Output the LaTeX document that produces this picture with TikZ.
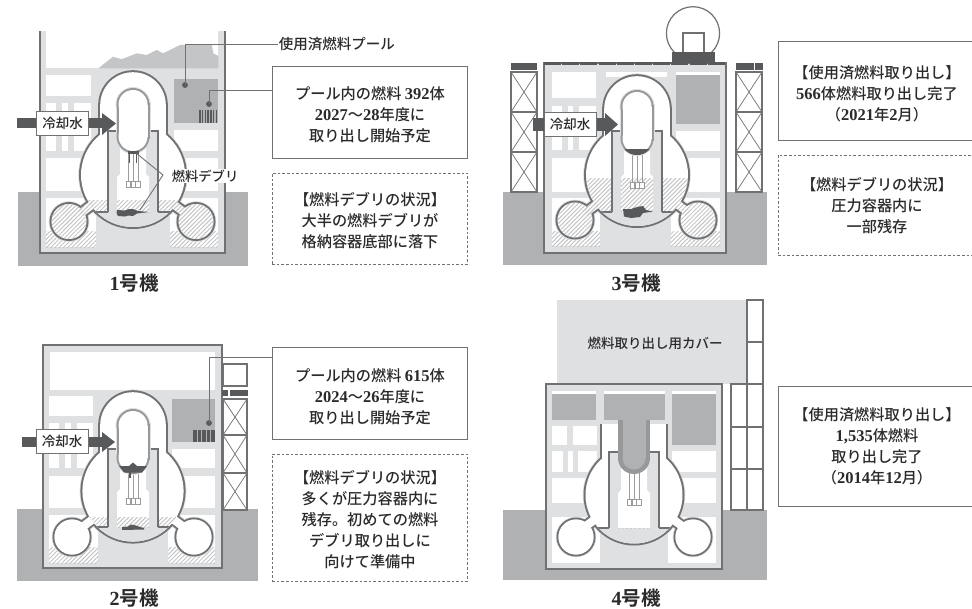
\documentclass[tikz,border=0pt]{standalone}
\usepackage{fontspec}
\usetikzlibrary{patterns.meta}
\setmainfont{Noto Sans CJK JP Medium}
\newfontfamily\numfont{Liberation Serif}
\newfontfamily\ttlfont{Noto Sans CJK JP Bold}
\newcommand\nm[1]{{\numfont\bfseries\fontsize{16.5}{21}\selectfont #1}}
\definecolor{wallc}{HTML}{707173}
\definecolor{groundc}{HTML}{B0B1B3}
\definecolor{lightc}{HTML}{DFE0E2}
\definecolor{darkc}{HTML}{58595B}
\definecolor{hatchc}{HTML}{C4C5C7}
\definecolor{rpvc}{HTML}{97989A}
\definecolor{rodc}{HTML}{9A9B9D}
\definecolor{textc}{HTML}{2A2A2C}
\tikzset{
  water/.style={pattern={Lines[angle=45,distance=3pt,line width=1pt]},pattern color=hatchc},
  wall/.style={draw=wallc,line width=2pt,line join=miter},
  thinl/.style={draw=wallc,line width=1.2pt},
  leader/.style={draw=wallc,line width=.9pt},
  solidbox/.style={draw=wallc,line width=1pt,fill=white,inner sep=0pt},
  dashbox/.style={solidbox,dash pattern=on 2.6pt off 2pt},
  boxtext/.style={align=center,inner sep=0pt,text=textc,font=\fontsize{15.2}{21}\selectfont},
  coolbox/.style={draw=wallc,line width=1pt,fill=white,inner sep=0pt,text=textc,font=\fontsize{13.5}{16}\selectfont,minimum width=52pt,minimum height=24pt},
  unitlabel/.style={text=textc,inner sep=0pt,font=\ttlfont\fontsize{19.5}{22}\selectfont},
  smalltext/.style={text=textc,inner sep=.6pt,font=\fontsize{13.3}{16}\selectfont},
  dotc/.style={circle,fill=darkc,inner sep=0pt,minimum size=5.8pt},
  towerline/.style={draw=wallc,line width=1.5pt},
  towerx/.style={draw=wallc,line width=.7pt}
}
% containment parts; each is its own path so that overlaps never cancel
\newcommand\ctparts[1]{%
  \path[#1] (0,\RBc) circle[radius=\RBr];
  \path[#1] (\RTl,\RTy) circle[radius=17.5];
  \path[#1] (\RTr,\RTy) circle[radius=17.5];
  \path[#1] (-37.6,-45.8) -- (-42.4,-52.2) -- (-54.4,-43.2) -- (-49.6,-36.8) -- cycle;
  \path[#1] (37.6,-45.8) -- (42.4,-52.2) -- (54.4,-43.2) -- (49.6,-36.8) -- cycle;
  \ifnum\RDome=1
    \path[#1] (0,\RDy) circle[radius=32.8];
    \path[#1] (-32.8,\RDy) rectangle (32.8,-100);
  \else
    \path[#1] (-32,-145) rectangle (32,-100);
  \fi
}
\newcommand\rpvparts[1]{%
  \path[#1] (0,\RRc) circle[radius=14.5];
  \path[#1] (0,\RRc-32) circle[radius=14.5];
  \path[#1] (-14.5,\RRc-32) rectangle (14.5,\RRc);
}
\newcommand\containment[1]{%
  \ctparts{draw=lightc,line width=5.6pt}
  \ctparts{draw=wallc,line width=4pt}
  \ctparts{fill=white}
  \path[#1] (\RTl,\RTy) circle[radius=17.5];
  \path[#1] (\RTr,\RTy) circle[radius=17.5];
  \path[#1] (-37.6,-45.8) -- (-42.4,-52.2) -- (-54.4,-43.2) -- (-49.6,-36.8) -- cycle;
  \path[#1] (37.6,-45.8) -- (42.4,-52.2) -- (54.4,-43.2) -- (49.6,-36.8) -- cycle;
  \begin{scope}
    \clip (0,\RBc) circle[radius=\RBr];
    \fill[lightc] (-70,-41) rectangle (70,-10);
    \path[water] (-70,\RWl) rectangle (-25,-41);
    \path[water] (25,\RWl) rectangle (70,-41);
    \draw[thinl] (-70,-41) -- (-25,-41);
    \draw[thinl] (25,-41) -- (70,-41);
  \end{scope}
  \fill[lightc] (-25,\RPt) rectangle (25,-41);
  \draw[thinl] (-25,-41) -- (-25,\RPt) -- (25,\RPt) -- (25,-41);
  \fill[white] (-13,\RPt+8) -- (13,\RPt+8) -- (13,-79) -- (16,-76) -- (16,-41) -- (-16,-41) -- (-16,-76) -- (-13,-79) -- cycle;
  \path[water] (-16,\RWl) rectangle (16,-41);
}
\newcommand\rods{%
  \draw[rodc,line width=.8pt] (-5,\RRc+15) -- (-5,\RRe) (0,\RRc+15) -- (0,\RRe) (5,\RRc+15) -- (5,\RRe);
  \draw[rodc,line width=.6pt,fill=white] (-7,\RRe) rectangle (-2.6,\RRe+6) (-2.2,\RRe) rectangle (2.2,\RRe+6) (2.6,\RRe) rectangle (7,\RRe+6);
}
\newcommand\rpvdraw{%
  \rpvparts{draw=lightc,line width=6pt}
  \rpvparts{draw=rpvc,line width=4pt}
  \rpvparts{fill=white}
}
\begin{document}
\begin{tikzpicture}[x=1pt,y=-1pt]
\useasboundingbox (0,0) rectangle (972,608);
\fill[white] (0,0) rectangle (972,608);

%%%%%%%%%%%%%%%% UNIT 1
\fill[groundc] (18,192) rectangle (248,266);
\fill[white] (40,31) rectangle (225,68);
\fill[lightc] (40,68) rectangle (225,253);
\fill[lightc] (40,31) rectangle (46,68);
\fill[lightc] (218,31) rectangle (225,68);
\fill[fill=hatchc] (98.3,68.3) -- (113,56.7) -- (121.7,59.3) -- (136.7,53.3) -- (146.7,55) -- (156.7,50) -- (163.3,53.3) -- (180,45) -- (211.7,44) -- (213.3,53.3) -- (218.3,56) -- (218.3,68.3) -- cycle;
\begin{scope}[shift={(133,253)}]
  \foreach \a/\b/\c/\d in {-87/-178/-42/-157,-87/-150/-77/-102,-71/-150/-65/-102,-59/-150/-42/-102,-87/-95/-42/-62,-87/-55/-37/-6,41/-123/85/-102,41/-95/85/-62,37/-55/85/-6}
    \fill[white] (\a,\b) rectangle (\c,\d);
  \path[water] (-87,-22) rectangle (-37,-6);
  \path[water] (37,-22) rectangle (85,-6);
  \fill[groundc] (41,-174) rectangle (85,-130);
  \def\RBc{-78}\def\RBr{52}\def\RTl{-64}\def\RTr{63}\def\RTy{-31.5}\def\RDome{1}\def\RDy{-148}\def\RPt{-122}\def\RWl{-53}\def\RRc{-116.5}\def\RRe{-72}
  \containment{water}
  \rods
  \rpvdraw
  \fill[darkc] (-5.5,-102.5) rectangle (5.5,-99);
  \draw[darkc,line width=1pt] (-4,-100) -- (-4,-90) (3,-100) -- (3,-90);
  \fill[darkc] (-16,-43) -- (-8,-42.5) -- (-4,-44) -- (0,-44) -- (5,-42) -- (16,-41) -- (4,-39.5) -- (0,-37) -- (-5,-37.5) -- (-8,-36.5) -- (-15,-37) -- (-16.5,-40) -- cycle;
  % pool rack
  \foreach \x in {0,...,6} \fill[darkc] (66+\x*2.75,-143) rectangle (67.7+\x*2.75,-130);
  \coordinate (p1a) at (52,-168);
  \coordinate (p1b) at (76,-149);
  \coordinate (d1a) at (3,-100);
  \coordinate (d1b) at (7,-43);
  % coolant arrow
  \fill[darkc] (-116,-135) rectangle (-31,-125);
  \fill[darkc] (-31,-140) -- (-17,-129.5) -- (-31,-118) -- cycle;
\end{scope}
\draw[wall] (40,31) -- (40,253) -- (225,253) -- (225,31);
\node[coolbox] (c1) at (62.5,123) {冷却水};
\node[dotc] (dot1a) at (p1a) {};
\node[dotc] (dot1b) at (p1b) {};
\node[solidbox,minimum width=195.5pt,minimum height=92pt] (b1) at (370,112) {};
\node[boxtext] (t1) at (370,115) {プール内の燃料 \nm{392}体\\\nm{2027}〜\nm{28}年度に\\取り出し開始予定};
\node[dashbox,minimum width=195.5pt,minimum height=91pt] (b1d) at (370,218.5) {};
\node[boxtext] (t1d) at (370,220.5) {【燃料デブリの状況】\\大半の燃料デブリが\\格納容器底部に落下};
\node[smalltext,anchor=west] (pool1) at (278,44) {\fontsize{14.5}{16}\selectfont 使用済燃料プール};
\coordinate (j1) at (272,90.7);
\draw[leader] (dot1a.center) |- (pool1.west);
\draw[leader] (dot1b.center) |- (j1);
\node[smalltext,fill=white,anchor=west] (deb1) at (171,176) {燃料デブリ};
\coordinate (deb1v) at (163,175);
\draw[leader] (d1a) -- (deb1v) -- (d1b);
\node[unitlabel] (u1) at (134,283) {\nm{\fontsize{20}{22}\selectfont 1}号機};

%%%%%%%%%%%%%%%% UNIT 3
\fill[groundc] (503,192) rectangle (767,265);
\fill[lightc] (544,63) rectangle (726,253);
\begin{scope}[shift={(637,253)}]
  \foreach \a/\b/\c/\d in {-85/-181/-41/-155,-31/-181/30/-176,39/-181/83/-178,-85/-147/-75/-103,-69/-147/-64/-103,-58/-147/-41/-103,-85/-95/-41/-61,-85/-55/-37/-7,39/-122/83/-102,39/-95/83/-61,34/-55/83/-7}
    \fill[white] (\a,\b) rectangle (\c,\d);
  \path[water] (-85,-22) rectangle (-37,-7);
  \path[water] (34,-22) rectangle (83,-7);
  \fill[groundc] (39,-178) rectangle (83,-129);
  \def\RBc{-78}\def\RBr{51}\def\RTl{-62}\def\RTr{61}\def\RTy{-33}\def\RDome{1}\def\RDy{-144}\def\RPt{-122}\def\RWl{-75}\def\RRc{-114.5}\def\RRe{-71}
  \containment{water}
  \rods
  \rpvdraw
  \begin{scope}
    \clip (0,-114.5) circle[radius=16.5];
    \fill[darkc] (-17,-104) rectangle (17,-98);
  \end{scope}
  \fill[darkc] (-14,-44) -- (-6,-44) -- (0,-46) -- (6,-47) -- (9,-43) -- (16,-41.5) -- (6,-40) -- (3,-36) -- (-6,-35) -- (-13,-36.5) -- cycle;
  \fill[darkc] (-104,-135) rectangle (-32,-122);
  \fill[darkc] (-32,-140) -- (-19,-128.5) -- (-32,-117) -- cycle;
\end{scope}
\draw[wall] (544,63) rectangle (726,253);
\foreach \x in {0,...,9} \fill[darkc] (544+\x*18.2,61.5) rectangle (561+\x*18.2,64.5);
% overhead crane cover
\draw[draw=wallc,line width=1.2pt,fill=white] (693,33.3) circle[radius=26.6];
\draw[draw=wallc,line width=2.2pt,fill=white] (683,52) -- (683,33) -- (704,33) -- (704,52);
\fill[darkc] (672,52) rectangle (715,63);
% towers
\fill[darkc] (510.5,63) rectangle (537,70);
\fill[darkc] (735.5,63) rectangle (753.5,70);
\fill[darkc] (754.5,63) rectangle (763,70);
\foreach \xa in {511,736} {
  \fill[white] (\xa,72) rectangle (\xa+26,192);
  \foreach \ya in {72,112,152} {
    \draw[towerx] (\xa,\ya) -- (\xa+26,\ya+40) (\xa+26,\ya) -- (\xa,\ya+40);
    \draw[towerline] (\xa,\ya) rectangle (\xa+26,\ya+40);
  }
}
\fill[darkc] (533,118) rectangle (545,131);
\node[coolbox] (c3) at (570,124) {冷却水};
\node[solidbox,minimum width=196pt,minimum height=99pt] (b3) at (876,90.5) {};
\node[boxtext] (t3) at (877,93.5) {【使用済燃料取り出し】\\\nm{566}体燃料取り出し完了\\（\nm{2021}年\nm{2}月）};
\node[dashbox,minimum width=196pt,minimum height=100pt] (b3d) at (876,205) {};
\node[boxtext] (t3d) at (877,205.5) {【燃料デブリの状況】\\圧力容器内に\\一部残存};
\node[unitlabel] (u3) at (636,283) {\nm{\fontsize{20}{22}\selectfont 3}号機};

%%%%%%%%%%%%%%%% UNIT 2
\fill[groundc] (17,509) rectangle (258,581);
\fill[lightc] (43,345) rectangle (222,568);
\begin{scope}[shift={(133,568)}]
  \foreach \a/\b/\c/\d in {-83/-216/82/-178,-84/-172/-40/-152,-84/-145/-74/-100,-68/-145/-62/-100,-56/-145/-40/-100,-84/-92/-40/-60,-84/-53/-35/-5,39/-119/82/-100,39/-92/82/-60,35/-53/82/-5}
    \fill[white] (\a,\b) rectangle (\c,\d);
  \path[water] (-84,-21) rectangle (-35,-5);
  \path[water] (35,-21) rectangle (82,-5);
  \fill[groundc] (39,-169) rectangle (82,-126);
  \def\RBc{-77}\def\RBr{50.6}\def\RTl{-61}\def\RTr{61}\def\RTy{-31}\def\RDome{1}\def\RDy{-143}\def\RPt{-119}\def\RWl{-51}\def\RRc{-110.5}\def\RRe{-70}
  \containment{fill=white}
  \rods
  \rpvdraw
  \fill[darkc] (-14,-102) -- (-4,-102) -- (0,-105.5) -- (4,-102) -- (14,-102) -- (9,-95.5) -- (-9,-95.5) -- cycle;
  \draw[darkc,line width=1.4pt] (-3,-96) -- (-3,-90);
  \fill[darkc] (-11,-41) -- (-5,-41.5) -- (-2,-43.5) -- (3,-42.5) -- (7,-41) -- (11,-40) -- (11,-38.5) -- (-11,-38) -- cycle;
  \foreach \x in {0,...,4} \fill[darkc] (60+\x*4.5,-138) rectangle (63.5+\x*4.5,-126);
  \coordinate (p2) at (76,-145);
  \fill[darkc] (-111,-131) rectangle (-31,-121);
  \fill[darkc] (-31,-136) -- (-18,-126) -- (-31,-116) -- cycle;
\end{scope}
\draw[wall] (43,345) rectangle (222,568);
% tower
\draw[towerline,line width=2pt,fill=white] (223,364) rectangle (247,386);
\fill[darkc] (222,390) rectangle (228,396);
\fill[darkc] (230,390) rectangle (247.5,396);
\fill[white] (223,399) rectangle (247,510);
\foreach \ya/\yb in {399/435,435/473,473/510} {
  \draw[towerx] (223,\ya) -- (247,\yb) (247,\ya) -- (223,\yb);
  \draw[towerline] (223,\ya) rectangle (247,\yb);
}
\node[coolbox] (c2) at (62,441.5) {冷却水};
\node[dotc] (dot2) at (p2) {};
\node[solidbox,minimum width=195.5pt,minimum height=92pt] (b2) at (370,393) {};
\node[boxtext] (t2) at (370,397) {プール内の燃料 \nm{615}体\\\nm{2024}〜\nm{26}年度に\\取り出し開始予定};
\node[dashbox,minimum width=195.5pt,minimum height=127pt] (b2d) at (370,517.5) {};
\node[boxtext] (t2d) at (370,519.5) {【燃料デブリの状況】\\多くが圧力容器内に\\残存。初めての燃料\\デブリ取り出しに\\向けて準備中};
\coordinate (j2) at (272,357);
\draw[leader] (dot2.center) |- (j2);
\node[unitlabel] (u2) at (134,598) {\nm{\fontsize{20}{22}\selectfont 2}号機};

%%%%%%%%%%%%%%%% UNIT 4
\fill[groundc] (503,510) rectangle (767,580);
\fill[lightc] (557,300) rectangle (747,384);
\fill[lightc] (546,384) rectangle (722,569);
\begin{scope}[shift={(634,569)}]
  \foreach \a/\b/\c/\d in {-82/-178/-38/-175,-30/-178/31/-175,38/-178/82/-175,-82/-143/-67/-124,-61/-143/-37/-124,-82/-118/-71/-97,-66/-118/-61/-97,-56/-118/-37/-97,-82/-91/-37/-66,-82/-52/-34/-6,38/-118/82/-97,38/-91/82/-66,34/-52/82/-6}
    \fill[white] (\a,\b) rectangle (\c,\d);
  \fill[groundc] (38,-175) rectangle (82,-124);
  \def\RBc{-74}\def\RBr{48.5}\def\RTl{-58}\def\RTr{59}\def\RTy{-32}\def\RDome{0}\def\RDy{-140}\def\RPt{-117}\def\RWl{-41}\def\RRc{-111}\def\RRe{-70}
  \containment{fill=white}
  \rods
  \fill[lightc] (-35,-149) rectangle (35,-145);
  \fill[rpvc] (-16,-149) rectangle (16,-111);
  \fill[rpvc] (0,-111) circle[radius=16];
  \fill[groundc] (-11.5,-149) rectangle (11.5,-111);
  \fill[groundc] (0,-111) circle[radius=11.5];
  \fill[groundc] (-82,-175) rectangle (-38,-149);
  \fill[groundc] (-30,-175) rectangle (31,-149);
\end{scope}
\draw[wall] (546,384) rectangle (722,569);
% tower
\draw[towerline,fill=white] (747,300) rectangle (763,342);
\draw[towerline,fill=white] (747,342) rectangle (763,384);
\foreach \ya/\yb in {384/427,427/469,469/510} {
  \draw[towerline,fill=white] (731,\ya) rectangle (747,\yb);
  \draw[towerline,fill=white] (747,\ya) rectangle (763,\yb);
}
\node[text=textc,inner sep=0pt,font=\fontsize{13.5}{16}\selectfont] (cover) at (655,343) {燃料取り出し用カバー};
\node[solidbox,minimum width=196pt,minimum height=120pt] (b4) at (876,446) {};
\node[boxtext] (t4) at (877,446.5) {【使用済燃料取り出し】\\\nm{1,535}体燃料\\取り出し完了\\（\nm{2014}年\nm{12}月）};
\node[unitlabel] (u4) at (636,598) {\nm{\fontsize{20}{22}\selectfont 4}号機};
\end{tikzpicture}
\end{document}
